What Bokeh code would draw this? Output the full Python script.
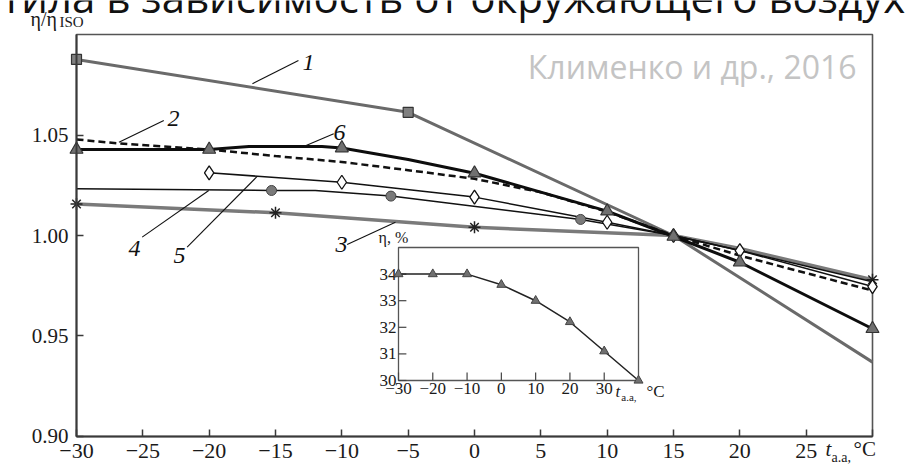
from bokeh.plotting import figure
from bokeh.models import Range1d, FixedTicker, Label
from bokeh.embed import file_html
from bokeh.resources import INLINE
from bokeh.core.properties import value

# ---------------- data ----------------
x_lim = [-30, 30]
y_lim = [0.90, 1.10]
x_ticks = [-30, -25, -20, -15, -10, -5, 0, 5, 10, 15, 20, 25, 30]
x_tick_labels = ["−30", "−25", "−20", "−15", "−10", "−5", "0", "5", "10", "15", "20", "25", ""]
y_ticks = [0.90, 0.95, 1.00, 1.05]
y_tick_labels = ["0.90", "0.95", "1.00", "1.05"]

# curve 1 (grey, squares)
c1_t = [-30, -5, 15, 30]
c1_v = [1.0876, 1.0613, 1.000, 0.937]
c1_mt = [-30, -5]
c1_mv = [1.0876, 1.0613]

# curve 2 (dashed, no markers)
c2_t = [-30, -27, -22, -20, -15, -10, -5, 0, 5, 10, 15, 20, 30]
c2_v = [1.0478, 1.0459, 1.0437, 1.0428, 1.0395, 1.0366, 1.0325, 1.0282, 1.0215, 1.0118, 1.000, 0.9900, 0.9726]

# curve 3 (grey, asterisks)
c3_t = [-30, -15, 0, 15, 20, 30]
c3_v = [1.0157, 1.0113, 1.0041, 1.000, 0.9935, 0.978]
c3_mt = [-30, -15, 0, 30]
c3_mv = [1.0157, 1.0113, 1.0041, 0.978]

# curve 4 (thin, circles)
c4_t = [-30, -15.3, -12, -6.3, 8, 15, 20, 30]
c4_v = [1.0232, 1.0224, 1.0224, 1.0196, 1.008, 1.000, 0.9925, 0.977]
c4_mt = [-15.3, -6.3, 8]
c4_mv = [1.0224, 1.0196, 1.008]

# curve 5 (thin, diamonds)
c5_t = [-20, -10, 0, 10, 15, 20, 30]
c5_v = [1.0312, 1.0265, 1.0191, 1.0066, 1.000, 0.9925, 0.9746]

# curve 6 (thick black, triangles)
c6_t = [-30, -20, -17, -11.5, -10, -5, 0, 10, 15, 20, 30]
c6_v = [1.0428, 1.0428, 1.0443, 1.0443, 1.0435, 1.0378, 1.031, 1.0121, 0.9995, 0.9867, 0.9536]
c6_mt = [-30, -20, -10, 0, 10, 15, 20, 30]
c6_mv = [1.0428, 1.0428, 1.0435, 1.031, 1.0121, 0.9995, 0.9867, 0.9536]

# curve numbers and leader lines
num_text = ["1", "2", "6", "4", "5", "3"]
num_x = [-12.52, -22.69, -10.18, -25.63, -22.24, -10.03]
num_y = [1.0861, 1.0582, 1.0512, 0.9935, 0.9900, 0.9955]
lead_x0 = [-16.74, -26.8, -12.87, -20.03, -16.38, -5.96]
lead_y0 = [1.0755, 1.0464, 1.0443, 1.0224, 1.0294, 1.0066]
lead_x1 = [-13.27, -23.42, -10.61, -25.05, -21.66, -9.6]
lead_y1 = [1.0871, 1.0572, 1.0506, 0.9992, 0.9942, 0.9955]

# inset
inset_t = [-30, -20, -10, 0, 10, 20, 30, 40]
inset_eta = [34.0, 34.0, 34.0, 33.6, 33.0, 32.2, 31.1, 30.0]
inset_x_ticks = [-30, -20, -10, 0, 10, 20, 30]
inset_x_labels = ["−30", "−20", "−10", "0", "10", "20", "30"]
inset_y_ticks = [30, 31, 32, 33, 34]
inset_y_labels = ["30", "31", "32", "33", "34"]
inset_xlim = [-30, 40]
inset_ylim = [30, 35]

SERIF = "Liberation Serif"

# ---------------- figure (frame fills the page; axes pinned inside) ----------------
p = figure(width=909, height=469, x_range=Range1d(-35.729, 32.789), y_range=Range1d(0.88358, 1.11692),
           output_backend="svg", toolbar_location=None, title=None,
           min_border_left=0, min_border_right=0, min_border_top=0, min_border_bottom=0)
p.xgrid.visible = False
p.ygrid.visible = False
p.outline_line_color = None
p.background_fill_color = "white"
p.border_fill_color = "white"

# frame box (drawn first)
p.quad(left=[x_lim[0]], right=[x_lim[1]], bottom=[y_lim[0]], top=[y_lim[1]],
       fill_color="white", line_color="#555555", line_width=1.6)

p.xaxis.fixed_location = y_lim[0]
p.yaxis.fixed_location = x_lim[0]
p.xaxis.bounds = (x_lim[0], x_lim[1])
p.yaxis.bounds = (y_lim[0], y_lim[1])
p.xaxis.ticker = FixedTicker(ticks=x_ticks)
p.xaxis.major_label_overrides = {t: l for t, l in zip(x_ticks, x_tick_labels)}
p.yaxis.ticker = FixedTicker(ticks=y_ticks)
p.yaxis.major_label_overrides = {t: l for t, l in zip(y_ticks, y_tick_labels)}
for ax in (p.xaxis[0], p.yaxis[0]):
    ax.major_tick_in = 7
    ax.major_tick_out = 0
    ax.minor_tick_in = 0
    ax.minor_tick_out = 0
    ax.axis_line_color = "#3a3a3a"
    ax.axis_line_width = 2
    ax.major_tick_line_color = "#3a3a3a"
    ax.major_tick_line_width = 1.5
    ax.major_label_text_font = SERIF
    ax.major_label_text_color = "#1a1a1a"
p.xaxis.major_label_text_font_size = "22px"
p.yaxis.major_label_text_font_size = "21px"
p.xaxis.major_label_standoff = 8
p.yaxis.major_label_standoff = 8

# inset ranges (mapped onto the page)
p.extra_x_ranges = {"ix": Range1d(-146.08, 119.04)}
p.extra_y_ranges = {"iy": Range1d(26.654, 44.286)}

# ---------------- curves ----------------
p.line(c1_t, c1_v, line_color="#6a6a6a", line_width=3)
p.line(c3_t, c3_v, line_color="#7a7a7a", line_width=3.5)
p.line(c4_t, c4_v, line_color="#111111", line_width=1.5)
p.line(c5_t, c5_v, line_color="#111111", line_width=1.5)
p.line(c2_t, c2_v, line_color="#111111", line_width=2.5, line_dash="7 4")
p.line(c6_t, c6_v, line_color="#0d0d0d", line_width=3)

p.scatter(c1_mt, c1_mv, marker="square", size=10, fill_color="#808080", line_color="#333333", line_width=1.2)
p.scatter(c3_mt, c3_mv, marker="asterisk", size=12, line_color="#222222", line_width=1.5)
p.scatter(c4_mt, c4_mv, marker="circle", size=10, fill_color="#7a7a7a", line_color="#444444", line_width=1)
p.scatter(c5_t, c5_v, marker="diamond", size=14, fill_color="white", line_color="#111111", line_width=1.3)
p.scatter(c6_mt, c6_mv, marker="triangle", size=13, fill_color="#707070", line_color="#333333", line_width=1.2)

# curve numbers
p.segment(lead_x0, lead_y0, lead_x1, lead_y1, line_color="#111111", line_width=1.1)
p.text(num_x, num_y, text=num_text, text_font=value(SERIF), text_font_style="italic",
       text_font_size="24px", text_align="center", text_baseline="middle", text_color="#111111")

# ---------------- inset ----------------
p.quad(left=[inset_xlim[0]], right=[inset_xlim[1]], bottom=[inset_ylim[0]], top=[inset_ylim[1]],
       fill_color="white", line_color="#555555", line_width=1.3,
       x_range_name="ix", y_range_name="iy")
p.segment(inset_x_ticks, [inset_ylim[0]] * len(inset_x_ticks),
          inset_x_ticks, [inset_ylim[0] + 0.3] * len(inset_x_ticks),
          line_color="#444444", line_width=1.2, x_range_name="ix", y_range_name="iy")
p.segment([inset_xlim[0]] * len(inset_y_ticks), inset_y_ticks,
          [inset_xlim[0] + 2.3] * len(inset_y_ticks), inset_y_ticks,
          line_color="#444444", line_width=1.2, x_range_name="ix", y_range_name="iy")
p.text(inset_x_ticks, [inset_ylim[0]] * len(inset_x_ticks), text=inset_x_labels,
       text_font=value(SERIF), text_font_size="17px", text_align="center", text_baseline="top",
       y_offset=3, text_color="#1a1a1a", x_range_name="ix", y_range_name="iy")
p.text([inset_xlim[0]] * len(inset_y_ticks), inset_y_ticks, text=inset_y_labels,
       text_font=value(SERIF), text_font_size="17px", text_align="right", text_baseline="middle",
       x_offset=-2, text_color="#1a1a1a", x_range_name="ix", y_range_name="iy")
p.line(inset_t, inset_eta, line_color="#222222", line_width=1.5, x_range_name="ix", y_range_name="iy")
p.scatter(inset_t, inset_eta, marker="triangle", size=9, fill_color="#707070", line_color="#444444",
          line_width=1, x_range_name="ix", y_range_name="iy")


def lab(x, y, text, size, style="normal", font=SERIF, color="#1a1a1a", align="left", xr=None, yr=None):
    kw = dict(x=x, y=y, text=text, text_font=font, text_font_size=size, text_font_style=style,
              text_color=color, text_align=align, text_baseline="alphabetic")
    if xr:
        kw["x_range_name"] = xr
        kw["y_range_name"] = yr
    p.add_layout(Label(**kw))


# inset titles
lab(-35.8, 35.39, "η, %", "16px", xr="ix", yr="iy")
lab(33.3, 29.575, "t", "17px", style="italic", xr="ix", yr="iy")
lab(35.0, 29.387, "a.a,", "11px", xr="ix", yr="iy")
lab(42.3, 29.575, "°C", "17px", xr="ix", yr="iy")

# main axis titles
lab(-33.467, 1.10784, "η/η", "20px")
lab(-31.28, 1.10602, "ISO", "15px")
lab(26.457, 0.89358, "t", "21px", style="italic")
lab(26.91, 0.88940, "a.a,", "14px")
lab(28.567, 0.89358, "°C", "21px")

# watermark and cut-off heading
lab(28.8, 1.08428, "Клименко и др., 2016", "32px", font="Open Sans", color="#c4c4c4", align="right")
lab(-35.65, 1.11905, "тила в зависимость от окружающего воздух", "42px", font="Open Sans", color="#111111")

open("out.html", "w").write(file_html(p, INLINE))
